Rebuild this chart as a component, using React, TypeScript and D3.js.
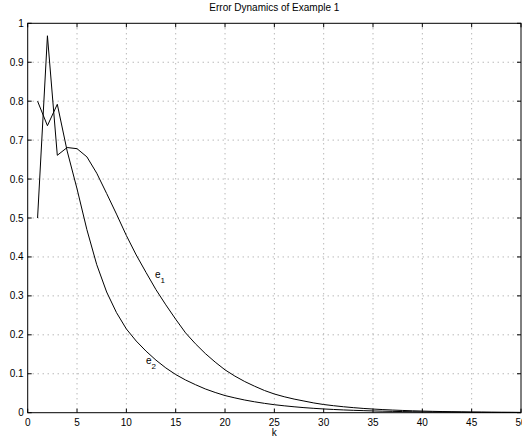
import React from "react";
import * as d3 from "d3";

const kValues: number[] = d3.range(1, 51);

const e1Values: number[] = [
  0.5, 0.968, 0.661, 0.681, 0.678, 0.657, 0.615, 0.563, 0.51, 0.455,
  0.405, 0.36, 0.316, 0.277, 0.24, 0.205, 0.177, 0.152, 0.13, 0.11,
  0.094, 0.08, 0.068, 0.057, 0.048, 0.041, 0.035, 0.03, 0.025, 0.021,
  0.018, 0.0153, 0.013, 0.011, 0.0094, 0.008, 0.0068, 0.0058, 0.0049, 0.0042,
  0.0035, 0.003, 0.0026, 0.0022, 0.0018, 0.0016, 0.0013, 0.0011, 0.001, 0.0008,
];

const e2Values: number[] = [
  0.8, 0.737, 0.792, 0.672, 0.575, 0.47, 0.38, 0.31, 0.257, 0.215,
  0.184, 0.158, 0.135, 0.115, 0.098, 0.084, 0.072, 0.061, 0.052, 0.044,
  0.038, 0.0325, 0.028, 0.024, 0.0205, 0.0177, 0.0152, 0.013, 0.0112, 0.0096,
  0.0083, 0.0071, 0.0061, 0.0053, 0.0045, 0.0039, 0.0034, 0.0029, 0.0025, 0.0021,
  0.0018, 0.0016, 0.0014, 0.0012, 0.001, 0.0009, 0.0008, 0.0007, 0.0006, 0.0005,
];

const xTicks: number[] = [0, 5, 10, 15, 20, 25, 30, 35, 40, 45, 50];
const yTicks: number[] = [0, 0.1, 0.2, 0.3, 0.4, 0.5, 0.6, 0.7, 0.8, 0.9, 1];
const yTickLabels: string[] = ["0", "0.1", "0.2", "0.3", "0.4", "0.5", "0.6", "0.7", "0.8", "0.9", "1"];

const W = 522;
const H = 441;
const left = 27.7;
const right = 521;
const top = 23.3;
const bottom = 412.7;
const font = "'Liberation Sans', Arial, Helvetica, sans-serif";

export default function App() {
  const x = d3.scaleLinear().domain([0, 50]).range([left, right]);
  const y = d3.scaleLinear().domain([0, 1]).range([bottom, top]);
  const line = d3
    .line<number>()
    .x((_, i) => x(kValues[i]))
    .y((d) => y(d));

  return (
    <svg
      width={W}
      height={H}
      style={{ position: "fixed", left: 0, top: 0, background: "#fff" }}
      fontFamily={font}
    >
      <rect x={0} y={0} width={W} height={H} fill="#fff" />
      {/* grid */}
      {xTicks.slice(1, -1).map((t) => (
        <line
          key={"gx" + t}
          x1={x(t)}
          x2={x(t)}
          y1={top}
          y2={bottom}
          stroke="#999"
          strokeWidth={1}
          strokeDasharray="1,4"
        />
      ))}
      {yTicks.slice(1, -1).map((t) => (
        <line
          key={"gy" + t}
          x1={left}
          x2={right}
          y1={y(t)}
          y2={y(t)}
          stroke="#999"
          strokeWidth={1}
          strokeDasharray="1,4"
        />
      ))}
      {/* ticks */}
      {xTicks.map((t) => (
        <g key={"tx" + t}>
          <line x1={x(t)} x2={x(t)} y1={bottom} y2={bottom - 4} stroke="#000" />
          <line x1={x(t)} x2={x(t)} y1={top} y2={top + 4} stroke="#000" />
          <text
            x={x(t)}
            y={bottom + 13}
            fontSize={10}
            textAnchor="middle"
            fill="#000"
          >
            {t}
          </text>
        </g>
      ))}
      {yTicks.map((t, i) => (
        <g key={"ty" + t}>
          <line x1={left} x2={left + 4} y1={y(t)} y2={y(t)} stroke="#000" />
          <line x1={right} x2={right - 4} y1={y(t)} y2={y(t)} stroke="#000" />
          <text
            x={left - 4}
            y={y(t) + 3.5}
            fontSize={10}
            textAnchor="end"
            fill="#000"
          >
            {yTickLabels[i]}
          </text>
        </g>
      ))}
      {/* curves */}
      <path d={line(e1Values) || ""} fill="none" stroke="#000" strokeWidth={1} />
      <path d={line(e2Values) || ""} fill="none" stroke="#000" strokeWidth={1} />
      {/* box */}
      <rect
        x={left}
        y={top}
        width={right - left}
        height={bottom - top}
        fill="none"
        stroke="#000"
        strokeWidth={1}
      />
      {/* labels */}
      <text x={155} y={278} fontSize={10} fill="#000">
        e<tspan dy={5} fontSize={8}>1</tspan>
      </text>
      <text x={146} y={364} fontSize={10} fill="#000">
        e<tspan dy={5} fontSize={8}>2</tspan>
      </text>
      <text x={(left + right) / 2} y={11} fontSize={10} textAnchor="middle" fill="#000">
        Error Dynamics of Example 1
      </text>
      <text x={(left + right) / 2} y={436} fontSize={10} textAnchor="middle" fill="#000">
        k
      </text>
    </svg>
  );
}
